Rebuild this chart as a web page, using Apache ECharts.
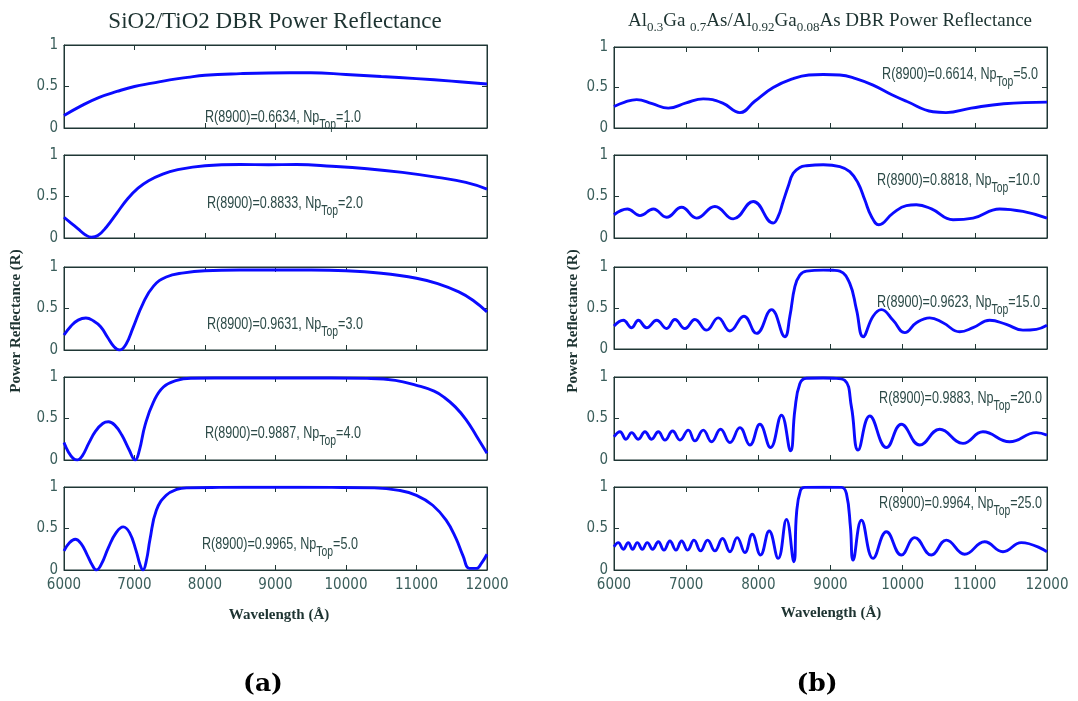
<!DOCTYPE html>
<html>
<head>
<meta charset="utf-8">
<script src="https://cdn.jsdelivr.net/npm/echarts@6.0.0/dist/echarts.min.js"></script>
<style>
  html, body { margin: 0; padding: 0; background: #ffffff; }
  #chart { width: 1078px; height: 701px; }
</style>
</head>
<body>
<div id="chart"></div>
<script>
// Power reflectance spectra, [wavelength (Å), R]

// SiO2/TiO2 stacks, Np(top) = 1..5
const sio2Np1 = [[6000,0.15],[6250,0.27],[6500,0.37],[6750,0.44],[7000,0.50],[7250,0.54],[7500,0.58],[7750,0.61],[8000,0.635],[8500,0.655],[8900,0.6634],[9500,0.665],[10000,0.645],[10500,0.62],[11000,0.595],[11500,0.565],[12000,0.53]];
const sio2Np2 = [[6000,0.25],[6100,0.18],[6200,0.11],[6300,0.04],[6390,0.01],[6480,0.03],[6600,0.13],[6750,0.30],[6900,0.47],[7050,0.60],[7200,0.69],[7400,0.77],[7600,0.82],[8000,0.87],[8500,0.885],[8900,0.8833],[9300,0.885],[9800,0.865],[10300,0.835],[10800,0.79],[11300,0.73],[11700,0.67],[12000,0.59]];
const sio2Np3 = [[6000,0.18],[6100,0.29],[6200,0.36],[6310,0.385],[6420,0.35],[6520,0.28],[6620,0.15],[6710,0.04],[6790,0.0],[6880,0.07],[6980,0.27],[7120,0.56],[7270,0.77],[7450,0.88],[7700,0.93],[8000,0.955],[8500,0.963],[8900,0.9631],[9500,0.963],[10000,0.955],[10500,0.925],[11000,0.865],[11300,0.80],[11600,0.70],[11800,0.60],[12000,0.46]];
const sio2Np4 = [[6000,0.21],[6060,0.10],[6130,0.02],[6190,0.0],[6260,0.05],[6350,0.20],[6450,0.35],[6550,0.44],[6630,0.46],[6720,0.42],[6820,0.30],[6920,0.13],[7010,0.0],[7070,0.12],[7150,0.42],[7270,0.70],[7410,0.88],[7600,0.96],[7800,0.985],[8200,0.988],[8900,0.9887],[9700,0.988],[10300,0.983],[10700,0.96],[11000,0.90],[11250,0.83],[11400,0.75],[11550,0.64],[11700,0.49],[11850,0.29],[12000,0.08]];
const sio2Np5 = [[6000,0.23],[6080,0.33],[6160,0.37],[6240,0.32],[6330,0.18],[6400,0.06],[6460,0.0],[6530,0.07],[6630,0.27],[6740,0.45],[6840,0.52],[6930,0.45],[7020,0.24],[7080,0.06],[7120,0.0],[7170,0.12],[7220,0.37],[7310,0.72],[7450,0.90],[7600,0.97],[7750,0.99],[8200,0.995],[8900,0.9965],[9800,0.995],[10400,0.99],[10750,0.96],[11000,0.90],[11230,0.78],[11420,0.60],[11560,0.38],[11660,0.17],[11750,0.02],[11850,0.02],[11920,0.08],[12000,0.19]];

// Al0.3Ga0.7As/Al0.92Ga0.08As stacks, Np(top) = 5..25
const algaNp5 = [[6000,0.265],[6150,0.32],[6314,0.35],[6530,0.30],[6752,0.245],[7000,0.31],[7237,0.36],[7500,0.31],[7744,0.19],[7950,0.33],[8206,0.50],[8483,0.61],[8700,0.655],[8900,0.6614],[9129,0.655],[9350,0.61],[9590,0.53],[9850,0.41],[10052,0.33],[10421,0.20],[10600,0.19],[10950,0.245],[11400,0.30],[12000,0.32]];
const algaNp10 = [[6000,0.28],[6185,0.35],[6360,0.27],[6545,0.35],[6729,0.25],[6937,0.37],[7144,0.24],[7398,0.38],[7652,0.23],[7929,0.44],[8206,0.18],[8275,0.26],[8344,0.44],[8413,0.62],[8483,0.78],[8575,0.85],[8667,0.87],[8900,0.8818],[9129,0.86],[9267,0.80],[9383,0.66],[9475,0.46],[9567,0.26],[9670,0.16],[9867,0.30],[10052,0.39],[10190,0.40],[10400,0.35],[10698,0.22],[10975,0.24],[11344,0.35],[11667,0.32],[12000,0.24]];
const algaNp15 = [[6000,0.28],[6129,0.35],[6245,0.26],[6337,0.35],[6452,0.26],[6591,0.35],[6729,0.25],[6844,0.36],[6983,0.25],[7121,0.36],[7283,0.23],[7444,0.38],[7606,0.22],[7800,0.40],[7975,0.19],[8183,0.48],[8367,0.15],[8437,0.40],[8506,0.76],[8575,0.90],[8667,0.95],[8900,0.9623],[9036,0.96],[9129,0.95],[9267,0.80],[9360,0.48],[9452,0.15],[9590,0.40],[9706,0.48],[9867,0.35],[10029,0.20],[10190,0.32],[10375,0.38],[10559,0.32],[10790,0.21],[10975,0.26],[11205,0.35],[11436,0.30],[11667,0.23],[11851,0.24],[12000,0.29]];
const algaNp20 = [[6000,0.28],[6083,0.34],[6166,0.25],[6245,0.33],[6337,0.25],[6429,0.34],[6521,0.25],[6614,0.34],[6706,0.24],[6812,0.35],[6914,0.24],[7029,0.36],[7121,0.23],[7237,0.36],[7352,0.22],[7477,0.37],[7606,0.21],[7744,0.39],[7883,0.18],[8021,0.43],[8169,0.15],[8321,0.54],[8446,0.11],[8506,0.60],[8575,0.92],[8667,0.985],[8900,0.9883],[9036,0.985],[9198,0.96],[9290,0.64],[9383,0.12],[9544,0.53],[9775,0.15],[9982,0.43],[10236,0.18],[10513,0.37],[10836,0.20],[11113,0.34],[11482,0.22],[11851,0.33],[12000,0.30]];
const algaNp25 = [[6000,0.28],[6060,0.33],[6129,0.25],[6198,0.33],[6258,0.25],[6323,0.33],[6392,0.25],[6461,0.33],[6535,0.25],[6614,0.34],[6692,0.24],[6775,0.35],[6858,0.24],[6937,0.35],[7020,0.24],[7108,0.36],[7200,0.23],[7297,0.36],[7398,0.23],[7504,0.38],[7606,0.22],[7707,0.39],[7814,0.21],[7915,0.43],[8030,0.18],[8150,0.47],[8275,0.14],[8390,0.61],[8492,0.10],[8529,0.68],[8584,0.96],[8644,0.995],[8900,0.9964],[9152,0.995],[9221,0.92],[9276,0.52],[9313,0.12],[9429,0.60],[9590,0.14],[9775,0.46],[9982,0.18],[10167,0.39],[10398,0.18],[10605,0.36],[10859,0.19],[11136,0.34],[11390,0.22],[11644,0.33],[12000,0.22]];

const npLeft = ['1.0', '2.0', '3.0', '4.0', '5.0'];
const npRight = ['5.0', '10.0', '15.0', '20.0', '25.0'];
const rLeft = ['0.6634', '0.8833', '0.9631', '0.9887', '0.9965'];
const rRight = ['0.6614', '0.8818', '0.9623', '0.9883', '0.9964'];
const xTicks = { min: 6000, max: 12000, step: 1000 };
const yTicks = { min: 0, max: 1, step: 0.5 };

// ---- layout ----
const FRAME = '#1f3735';
const TICK_TXT = '#3a5e5b';
const NOTE_TXT = '#2c4a47';
const CURVE = '#0b0bff';
const NARROW = "'Liberation Sans Narrow','DejaVu Sans Condensed','Liberation Sans',sans-serif";
const SANS = "'Liberation Sans',Arial,sans-serif";
const SERIF = "'Liberation Serif','Times New Roman',serif";

const leftTops = [45, 155, 267, 377, 487];
const rightTops = [47, 155, 267, 377, 487];
const rightHeights = [81, 83, 82, 83, 83];

const panels = [];
[sio2Np1, sio2Np2, sio2Np3, sio2Np4, sio2Np5].forEach((d, k) => panels.push({
  data: d, left: 64, top: leftTops[k], width: 423, height: 83, bottom: k === 4
}));
[algaNp5, algaNp10, algaNp15, algaNp20, algaNp25].forEach((d, k) => panels.push({
  data: d, left: 614, top: rightTops[k], width: 433, height: rightHeights[k], bottom: k === 4
}));

const grid = [], xAxis = [], yAxis = [], series = [];
panels.forEach((p, i) => {
  grid.push({ left: p.left, top: p.top, width: p.width, height: p.height,
    show: true, borderColor: FRAME, borderWidth: 1, backgroundColor: 'transparent' });
  const lineStyle = { color: FRAME, width: 1 };
  ['bottom', 'top'].forEach(pos => xAxis.push({
    gridIndex: i, type: 'value', position: pos,
    min: xTicks.min, max: xTicks.max, interval: xTicks.step,
    axisLine: { show: true, onZero: false, lineStyle },
    axisTick: { show: true, inside: true, length: 5, lineStyle },
    axisLabel: { show: pos === 'bottom' && p.bottom, formatter: v => String(v),
      color: TICK_TXT, fontFamily: NARROW, fontSize: 15, margin: 8 },
    splitLine: { show: false }
  }));
  ['left', 'right'].forEach(pos => yAxis.push({
    gridIndex: i, type: 'value', position: pos,
    min: yTicks.min, max: yTicks.max, interval: yTicks.step,
    axisLine: { show: true, onZero: false, lineStyle },
    axisTick: { show: true, inside: true, length: 5, lineStyle },
    axisLabel: { show: pos === 'left', color: TICK_TXT, fontFamily: NARROW, fontSize: 15, margin: 6 },
    splitLine: { show: false }
  }));
  series.push({
    type: 'line', xAxisIndex: 2 * i, yAxisIndex: 2 * i, data: p.data,
    smooth: 0.45, showSymbol: false, symbol: 'none',
    lineStyle: { color: CURVE, width: 2.9 }, silent: true
  });
});

// annotation text "R(8900)=..., Np_Top=..."
const noteRich = {
  a: { fontFamily: SANS, fontSize: 17, lineHeight: 17, verticalAlign: 'top', fill: NOTE_TXT },
  s: { fontFamily: SANS, fontSize: 14, lineHeight: 14, padding: [10, 0, 0, 0], verticalAlign: 'top', fill: NOTE_TXT }
};
function note(r, np, x, cy, align) {
  return {
    type: 'text', x: x, y: cy - 8.5, scaleX: 0.74, silent: true,
    style: {
      text: '{a|R(8900)=' + r + ', Np}{s|Top}{a|=' + np + '}',
      rich: noteRich, align: align, verticalAlign: 'top'
    }
  };
}
const leftNotePos = [[205, 117], [207, 203], [207, 324], [205, 433], [202, 544]];
const rightNotePos = [[1038, 74], [1040, 180], [1040, 302], [1042, 398], [1042, 503]];

const graphic = [];
rLeft.forEach((r, k) => graphic.push(note(r, npLeft[k], leftNotePos[k][0], leftNotePos[k][1], 'left')));
rRight.forEach((r, k) => graphic.push(note(r, npRight[k], rightNotePos[k][0], rightNotePos[k][1], 'right')));

// panel titles
graphic.push({
  type: 'text', x: 275, y: 22, silent: true,
  style: { text: 'SiO2/TiO2 DBR Power Reflectance', fontFamily: SERIF, fontSize: 23,
    fill: '#1d3331', align: 'center', verticalAlign: 'middle' }
});
graphic.push({
  type: 'text', x: 830, y: 12, silent: true,
  style: {
    text: '{m|Al}{b|0.3}{m|Ga }{b|0.7}{m|As/Al}{b|0.92}{m|Ga}{b|0.08}{m|As DBR Power Reflectance}',
    align: 'center', verticalAlign: 'top',
    rich: {
      m: { fontFamily: SERIF, fontSize: 19, lineHeight: 19, verticalAlign: 'top', fill: '#1d3331' },
      b: { fontFamily: SERIF, fontSize: 13, lineHeight: 13, padding: [9, 0, 0, 0], verticalAlign: 'top', fill: '#1d3331' }
    }
  }
});

// axis names
[[16, 321], [573, 321]].forEach(([x, y]) => graphic.push({
  type: 'text', x: x, y: y, rotation: Math.PI / 2, silent: true,
  style: { text: 'Power Reflectance (R)', fontFamily: SERIF, fontWeight: 'bold', fontSize: 15,
    fill: '#1d3331', align: 'center', verticalAlign: 'middle' }
}));
[[279, 615], [831, 613]].forEach(([x, y]) => graphic.push({
  type: 'text', x: x, y: y, silent: true,
  style: { text: 'Wavelength (Å)', fontFamily: SERIF, fontWeight: 'bold', fontSize: 15,
    fill: '#1d3331', align: 'center', verticalAlign: 'middle' }
}));

// sub-figure labels
[['(a)', 263], ['(b)', 817]].forEach(([t, x]) => graphic.push({
  type: 'text', x: x, y: 684, silent: true,
  style: { text: t, fontFamily: "'DejaVu Serif','Liberation Serif',serif", fontWeight: 'bold', fontSize: 25,
    fill: '#000000', align: 'center', verticalAlign: 'middle' }
}));

const chart = echarts.init(document.getElementById('chart'), null, { renderer: 'canvas' });
chart.setOption({
  animation: false,
  backgroundColor: '#ffffff',
  grid, xAxis, yAxis, series, graphic
});
</script>
</body>
</html>
